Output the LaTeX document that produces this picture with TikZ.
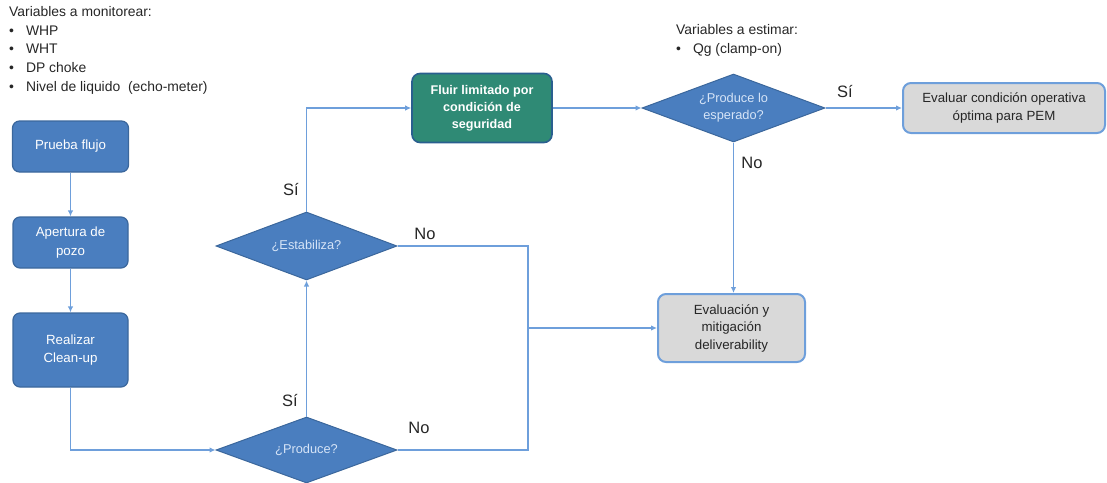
\documentclass[tikz,border=0pt]{standalone}
\usepackage{fontspec}
\setmainfont{Liberation Sans}
\usetikzlibrary{shapes.geometric,arrows.meta}
\definecolor{bfill}{HTML}{4A7EBF}
\definecolor{bdraw}{HTML}{3B679C}
\definecolor{lblue}{HTML}{6E9FDB}
\definecolor{gfill}{HTML}{2F8A75}
\definecolor{gdraw}{HTML}{2A5F8F}
\definecolor{gray1}{HTML}{D9D9D9}
\definecolor{dtext}{HTML}{D6E4F7}
\definecolor{tcol}{HTML}{262626}
\tikzset{
  bluebox/.style={draw=bdraw,fill=bfill,line width=1.2pt,rounded corners=7pt,text=white,align=center,font=\fontsize{13.3}{18.5}\selectfont,inner sep=0pt},
  greenbox/.style={draw=gdraw,fill=gfill,line width=1.6pt,rounded corners=8pt,text=white,align=center,font=\fontsize{12.6}{17}\selectfont\bfseries,inner sep=0pt},
  graybox/.style={draw=lblue,fill=gray1,line width=2pt,rounded corners=8pt,text=tcol,align=center,font=\fontsize{13.3}{17.5}\selectfont,inner sep=0pt},
  decision/.style={diamond,draw=bdraw,fill=bfill,line width=1pt,inner sep=0pt},
  dlabel/.style={text=dtext,align=center,font=\fontsize{12.8}{17}\selectfont,inner sep=0pt},
  conn/.style={draw=lblue,line width=1.3pt},
  arr/.style={conn,-{Latex[length=6pt,width=5.5pt]}},
  lab/.style={font=\fontsize{16.5}{17}\selectfont,text=tcol,inner sep=0pt},
  note/.style={font=\fontsize{13.9}{18.8}\selectfont,text=tcol,align=left,inner sep=0pt,anchor=north west}
}
\begin{document}
\begin{tikzpicture}[x=1pt,y=-1pt]
\useasboundingbox (0,0) rectangle (1107,482);
% notes
\node[note] (vm) at (9,6) {Variables a monitorear:\\
\textbullet\hspace{12pt}WHP\\
\textbullet\hspace{12pt}WHT\\
\textbullet\hspace{12pt}DP choke\\
\textbullet\hspace{12pt}Nivel de liquido\ \ (echo-meter)};
\node[note] (ve) at (676,24) {Variables a estimar:\\
\textbullet\hspace{12pt}Qg (clamp-on)};
% nodes
\node[bluebox,minimum width=116pt,minimum height=51pt] (prueba) at (70.5,146.5) {Prueba flujo};
\node[bluebox,minimum width=115pt,minimum height=51pt] (apertura) at (70.5,242.5) {Apertura de\\pozo};
\node[bluebox,minimum width=115pt,minimum height=74pt] (cleanup) at (70.5,350) {Realizar\\Clean-up};
\node[decision,minimum width=181pt,minimum height=66pt] (produce) at (306.5,450) {};
\node[dlabel] (produce-t) at (produce) {¿Produce?};
\node[decision,minimum width=181pt,minimum height=68pt] (estab) at (306.5,246) {};
\node[dlabel] (estab-t) at (estab) {¿Estabiliza?};
\node[greenbox,minimum width=140pt,minimum height=69pt] (fluir) at (482,108) {Fluir limitado por\\condición de\\seguridad};
\node[decision,minimum width=183pt,minimum height=68pt] (esperado) at (733.5,108) {};
\node[dlabel] (esperado-t) at (esperado) {¿Produce lo\\esperado?};
\node[graybox,minimum width=202pt,minimum height=50pt] (evaluar) at (1004,108) {Evaluar condición operativa\\óptima para PEM};
\node[graybox,minimum width=147pt,minimum height=68pt] (evalmit) at (731.5,328) {Evaluación y\\mitigación\\deliverability};
\coordinate (J) at (528,328);
% connectors
\draw[arr] (prueba.south) -- (apertura.north);
\draw[arr] (apertura.south) -- (cleanup.north);
\draw[arr] (cleanup.south) |- (produce.west);
\draw[arr] (produce.north) -- (estab.south);
\draw[arr] (estab.north) |- (fluir.west);
\draw[arr] (fluir.east) -- (esperado.west);
\draw[arr] (esperado.east) -- (evaluar.west);
\draw[arr] (esperado.south) -- (esperado.south |- evalmit.north);
\draw[conn] (estab.east) -| (J);
\draw[conn] (produce.east) -| (J);
\draw[arr] (J) -- (evalmit.west);
% labels
\node[lab] (s1) at (291,190) {Sí};
\node[lab] (s2) at (290,400) {Sí};
\node[lab] (n1) at (425,234) {No};
\node[lab] (n2) at (419,428) {No};
\node[lab] (s3) at (845,92) {Sí};
\node[lab] (n3) at (752,163) {No};
\end{tikzpicture}
\end{document}
